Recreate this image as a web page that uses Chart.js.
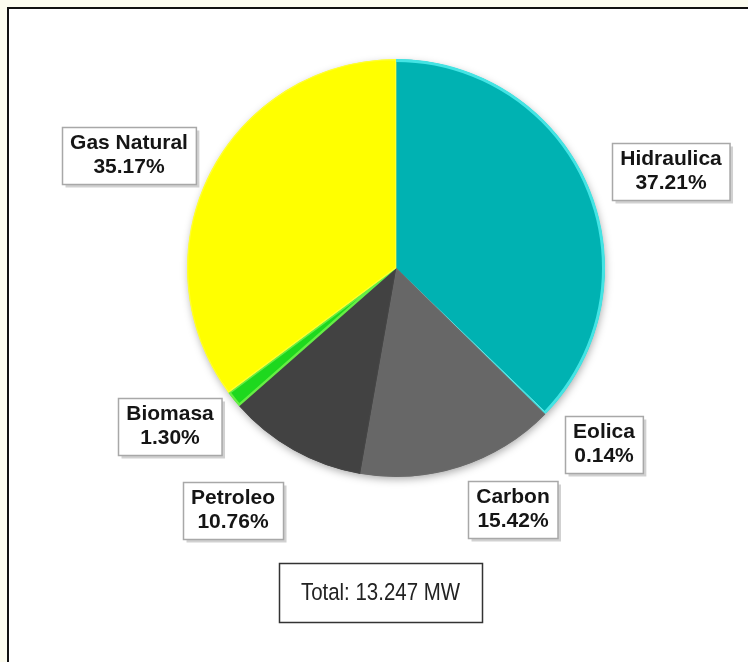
<!DOCTYPE html>
<html>
<head>
<meta charset="utf-8">
<script src="https://cdn.jsdelivr.net/npm/chart.js@4.4.1/dist/chart.umd.min.js"></script>
<style>
  html, body { margin: 0; padding: 0; background: #fcfcef; }
  canvas { display: block; }
</style>
</head>
<body>
<canvas id="c" width="748" height="662"></canvas>
<script>
// ---- data ----
const categories = ['Hidraulica', 'Eolica', 'Carbon', 'Petroleo', 'Biomasa', 'Gas Natural'];
const shares = [37.21, 0.14, 15.42, 10.76, 1.30, 35.17];
const totalText = 'Total: 13.247 MW';

// ---- styles / layout ----
const fillColors = ['#00b2b2', '#3fe3e3', '#676767', '#424242', '#1ed81e', '#ffff00'];
const edgeColors = ['#00b2b2', '#3fe3e3', '#6a6a6a', '#454545', '#66ee44', '#ffff30'];
const rimColors = ['#44e4e4', null, null, null, null, null];
const labelCenters = [[671, 171], [604, 444], [513, 509], [233, 510], [170, 426], [129, 155]];
const totalBox = { x: 279, y: 563, w: 203, h: 59 };

const framePlugin = {
  id: 'frame',
  beforeDraw(chart) {
    const ctx = chart.ctx;
    ctx.save();
    ctx.fillStyle = '#fcfcef';
    ctx.fillRect(0, 0, chart.width, chart.height);
    ctx.fillStyle = '#ffffff';
    ctx.fillRect(8, 8, chart.width - 8, chart.height - 8);
    ctx.strokeStyle = '#111';
    ctx.lineWidth = 2;
    ctx.beginPath();
    ctx.moveTo(8, chart.height);
    ctx.lineTo(8, 8);
    ctx.lineTo(chart.width, 8);
    ctx.stroke();
    ctx.restore();
  },
  beforeDatasetsDraw(chart) {
    const arc = chart.getDatasetMeta(0).data[0];
    if (!arc) return;
    const ctx = chart.ctx;
    ctx.save();
    ctx.shadowColor = 'rgba(0,0,0,0.35)';
    ctx.shadowBlur = 8;
    ctx.shadowOffsetX = 1;
    ctx.shadowOffsetY = 3;
    ctx.fillStyle = '#ffffff';
    ctx.beginPath();
    ctx.arc(arc.x, arc.y, arc.outerRadius - 1, 0, Math.PI * 2);
    ctx.fill();
    ctx.restore();
  },
  afterDatasetsDraw(chart) {
    const ctx = chart.ctx;
    ctx.save();
    chart.getDatasetMeta(0).data.forEach((arc, i) => {
      if (!rimColors[i]) return;
      ctx.strokeStyle = rimColors[i];
      ctx.lineWidth = 3;
      ctx.beginPath();
      ctx.arc(arc.x, arc.y, arc.outerRadius - 1.5, arc.startAngle, arc.endAngle);
      ctx.stroke();
    });
    ctx.restore();
  },
  afterDraw(chart) {
    const ctx = chart.ctx;
    ctx.save();
    ctx.textAlign = 'center';
    ctx.textBaseline = 'middle';
    categories.forEach((name, i) => {
      const [cx, cy] = labelCenters[i];
      const pct = shares[i].toFixed(2) + '%';
      ctx.font = 'bold 21px "Liberation Sans", Arial, sans-serif';
      const w = Math.max(ctx.measureText(name).width, ctx.measureText(pct).width) + 16;
      const h = 57;
      const x = Math.round(cx - w / 2) + 0.5, y = Math.round(cy - h / 2) + 0.5;
      ctx.fillStyle = 'rgba(0,0,0,0.18)';
      ctx.fillRect(x + 3, y + 3, w, h);
      ctx.fillStyle = '#ffffff';
      ctx.fillRect(x, y, w, h);
      ctx.strokeStyle = '#a8a8a8';
      ctx.lineWidth = 1.5;
      ctx.strokeRect(x, y, w, h);
      ctx.fillStyle = '#151515';
      ctx.fillText(name, cx, cy - 11.5);
      ctx.fillText(pct, cx, cy + 12.5);
    });
    const b = totalBox;
    ctx.fillStyle = '#ffffff';
    ctx.fillRect(b.x, b.y, b.w, b.h);
    ctx.strokeStyle = '#333';
    ctx.lineWidth = 1.5;
    ctx.strokeRect(b.x + 0.5, b.y + 0.5, b.w, b.h);
    ctx.fillStyle = '#222';
    ctx.font = '22px "Liberation Sans", Arial, sans-serif';
    ctx.save();
    ctx.translate(b.x + b.w / 2, b.y + b.h / 2 + 1);
    ctx.scale(0.93, 1.08);
    ctx.fillText(totalText, 0, 0);
    ctx.restore();
    ctx.restore();
  }
};

new Chart(document.getElementById('c'), {
  type: 'pie',
  data: {
    labels: categories,
    datasets: [{
      data: shares,
      backgroundColor: fillColors,
      borderColor: edgeColors,
      borderWidth: [0, 0, 1, 1, 2, 1],
      borderAlign: 'inner',
      radius: 209
    }]
  },
  options: {
    responsive: false,
    animation: false,
    layout: { padding: { left: 187, right: 143, top: 59, bottom: 185 } },
    plugins: {
      legend: { display: false },
      tooltip: { enabled: false }
    }
  },
  plugins: [framePlugin]
});
</script>
</body>
</html>
